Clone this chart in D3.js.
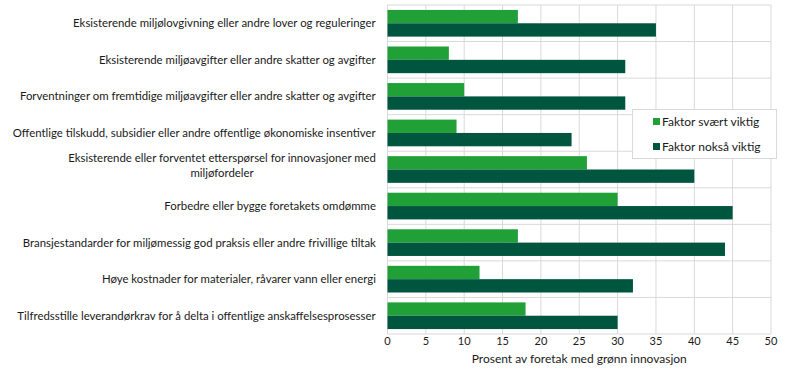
<html>
<head>
<script src="https://d3js.org/d3.v7.min.js"></script>
<style>
  body {margin:0; font-family: "Lato", "Open Sans", sans-serif; background:#fff;}
</style>
</head>
<body>
<script>
  var categories = [
    ["Eksisterende miljølovgivning eller andre lover og reguleringer"],
    ["Eksisterende miljøavgifter eller andre skatter og avgifter"],
    ["Forventninger om fremtidige miljøavgifter eller andre skatter og avgifter"],
    ["Offentlige tilskudd, subsidier eller andre offentlige økonomiske insentiver"],
    ["Eksisterende eller forventet etterspørsel for innovasjoner med", "miljøfordeler"],
    ["Forbedre eller bygge foretakets omdømme"],
    ["Bransjestandarder for miljømessig god praksis eller andre frivillige tiltak"],
    ["Høye kostnader for materialer, råvarer vann eller energi"],
    ["Tilfredsstille leverandørkrav for å delta i offentlige anskaffelsesprosesser"]
  ]
  var svaertViktig = [17, 8, 10, 9, 26, 30, 17, 12, 18]
  var noksaViktig = [35, 31, 31, 24, 40, 45, 44, 32, 30]
  var seriesNames = ["Faktor svært viktig", "Faktor nokså viktig"]
  var xTicks = [0, 5, 10, 15, 20, 25, 30, 35, 40, 45, 50]
  var xTitle = "Prosent av foretak med grønn innovasjon"

  var colors = ["#21a038", "#00553f"]
  var width = 787, height = 372
  var plotL = 387.5, plotR = 771, plotT = 5, plotB = 334

  var svg = d3.select("body").append("svg")
      .attr("width", width)
      .attr("height", height)

  var x = d3.scaleLinear().domain([0, 50]).range([plotL, plotR])
  var y = d3.scaleBand().domain(d3.range(categories.length)).range([plotT, plotB])
  var inner = d3.scaleBand().domain([0, 1]).range([0, y.bandwidth()]).paddingOuter(0.37)

  // grid
  svg.append("g").selectAll("line")
    .data(xTicks).enter().append("line")
      .attr("x1", function(d){ return x(d) }).attr("x2", function(d){ return x(d) })
      .attr("y1", plotT).attr("y2", plotB)
      .style("stroke", "#d9d9d9").style("stroke-width", 1)
  svg.append("g").selectAll("line")
    .data(d3.range(categories.length + 1)).enter().append("line")
      .attr("x1", plotL).attr("x2", plotR)
      .attr("y1", function(d){ return plotT + d * y.step() })
      .attr("y2", function(d){ return plotT + d * y.step() })
      .style("stroke", "#d9d9d9").style("stroke-width", 1)

  // bars
  var series = [svaertViktig, noksaViktig]
  series.forEach(function(vals, si) {
    svg.append("g").selectAll("rect")
      .data(vals).enter().append("rect")
        .attr("x", x(0))
        .attr("y", function(d, i){ return y(i) + inner(si) })
        .attr("width", function(d){ return x(d) - x(0) })
        .attr("height", inner.bandwidth())
        .style("fill", colors[si])
  })

  // category labels, right aligned block, wrapped lines centred
  var labels = svg.append("g")
  categories.forEach(function(lines, i) {
    var cy = y(i) + y.bandwidth() / 2
    var lh = 15
    var shift = lines.length > 1 ? -4 : 0
    var t = labels.append("text")
      .style("font-size", "11.4px").style("fill", "#1a1a1a")
    lines.forEach(function(l, j) {
      t.append("tspan").attr("x", 0)
        .attr("y", cy + shift + (j - (lines.length - 1) / 2) * lh)
        .attr("dy", "0.35em").text(l)
    })
    var w = t.node().getBBox().width
    t.attr("text-anchor", "middle").attr("transform", "translate(" + (376 - w / 2) + ",0)")
  })

  // x axis tick labels
  svg.append("g").selectAll("text")
    .data(xTicks).enter().append("text")
      .attr("x", function(d){ return x(d) })
      .attr("y", 345)
      .attr("text-anchor", "middle")
      .style("font-size", "11px").style("fill", "#1a1a1a")
      .text(function(d){ return d })

  svg.append("text")
    .attr("x", x(25)).attr("y", 363)
    .attr("text-anchor", "middle")
    .style("font-size", "12px").style("fill", "#1a1a1a")
    .text(xTitle)

  // legend
  var lg = svg.append("g")
  lg.append("rect")
    .attr("x", 632.5).attr("y", 109.5).attr("width", 144).attr("height", 49)
    .style("fill", "#fff").style("stroke", "#d9d9d9")
  seriesNames.forEach(function(n, i) {
    lg.append("rect").attr("x", 653).attr("y", 118 + i * 25).attr("width", 7).attr("height", 7)
      .style("fill", colors[i])
    lg.append("text").attr("x", 662).attr("y", 121.5 + i * 25).attr("dy", "0.35em")
      .style("font-size", "12px").style("fill", "#1a1a1a").text(n)
  })
</script>
</body>
</html>
